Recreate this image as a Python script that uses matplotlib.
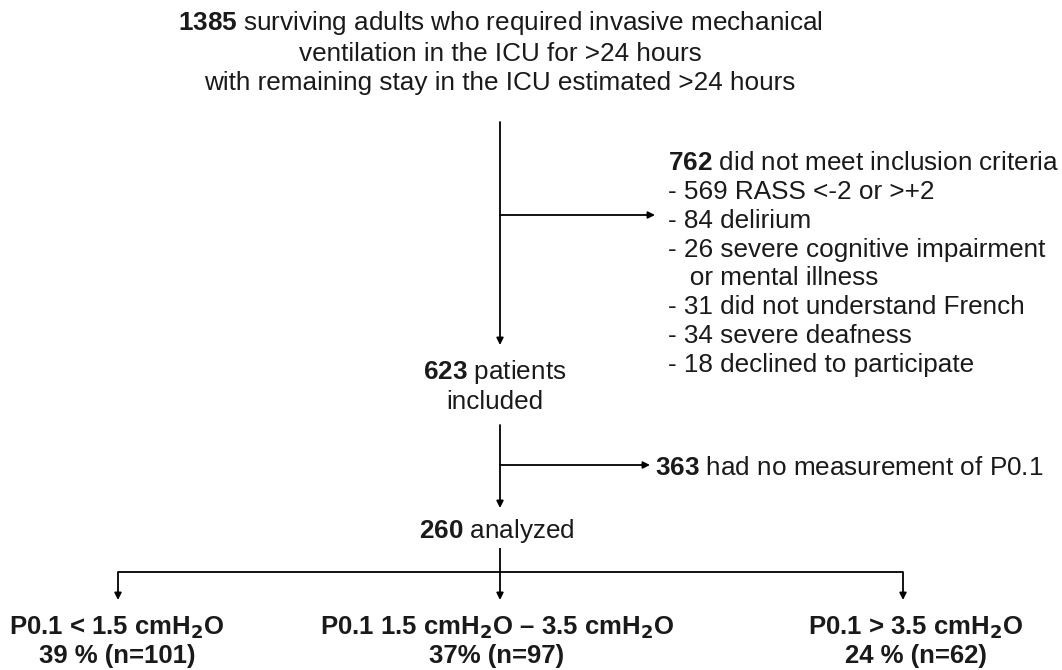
import matplotlib
matplotlib.use('Agg')
import matplotlib.pyplot as plt

# flow counts
n_screened = 1385
n_excluded = 762
excl_counts = [569, 84, 26, 31, 34, 18]
excl_reasons = ['RASS <-2 or >+2', 'delirium', 'severe cognitive impairment\nor mental illness',
                'did not understand French', 'severe deafness', 'declined to participate']
n_included = 623
n_no_p01 = 363
n_analyzed = 260
group_labels = ['P0.1 < 1.5 cmH$_2$O', 'P0.1 1.5 cmH$_2$O \u2013 3.5 cmH$_2$O', 'P0.1 > 3.5 cmH$_2$O']
group_pct = ['39 %', '37%', '24 %']
group_n = [101, 97, 62]

plt.rcParams['font.family'] = ['Liberation Sans', 'DejaVu Sans']
plt.rcParams['mathtext.fontset'] = 'custom'
plt.rcParams['mathtext.bf'] = 'Liberation Sans:bold'
plt.rcParams['mathtext.rm'] = 'Liberation Sans Narrow:bold'

fig = plt.figure(figsize=(10.62, 6.70), dpi=100)
ax = fig.add_axes([0, 0, 1, 1])
ax.set_xlim(0, 1062)
ax.set_ylim(670, 0)
ax.axis('off')

TXT = '#1a1a1a'
FS = 18.8
arrow = dict(arrowstyle='-|>', mutation_scale=10, lw=1.3, color='black', shrinkA=0, shrinkB=0)


def arr(x0, y0, x1, y1):
    ax.annotate('', xy=(x1, y1), xytext=(x0, y0), arrowprops=arrow)


def line(xs, ys):
    ax.plot(xs, ys, color='black', lw=1.3, solid_capstyle='butt')


# top box
top = (r'$\bf{%d}$ surviving adults who required invasive mechanical' % n_screened
       + '\nventilation in the ICU for >24 hours\nwith remaining stay in the ICU estimated >24 hours')
ax.text(500, 52, top, ha='center', va='center', fontsize=FS, color=TXT, linespacing=1.24)

# main stem
arr(500, 122, 500, 345)
arr(500, 215, 655, 215)

excl = [r'$\bf{%d}$ did not meet inclusion criteria' % n_excluded]
for c, r in zip(excl_counts, excl_reasons):
    r = r.replace('\n', '\n   ')
    excl.append('- %d %s' % (c, r))
ax.text(668, 264, '\n'.join(excl), ha='left', va='center', fontsize=FS, color=TXT, linespacing=1.25)

ax.text(495, 386, r'$\bf{%d}$ patients' % n_included + '\nincluded', ha='center', va='center',
        fontsize=FS, color=TXT, linespacing=1.22)

arr(500, 425, 500, 508)
arr(500, 465, 650, 465)
ax.text(655, 468, r'$\bf{%d}$ had no measurement of P0.1' % n_no_p01, ha='left', va='center',
        fontsize=FS, color=TXT)

ax.text(497, 531, r'$\bf{%d}$ analyzed' % n_analyzed, ha='center', va='center', fontsize=FS, color=TXT)

# split into groups
line([500, 500], [548, 572])
line([118, 903], [572, 572])
xs = [118, 500, 903]
label_x = [117, 497, 916]
for x, lx, g, p, n in zip(xs, label_x, group_labels, group_pct, group_n):
    arr(x, 572, x, 600)
    ax.text(lx, 641, '%s\n%s (n=%d)' % (g, p, n), ha='center', va='center', fontsize=18.5,
            color=TXT, fontweight='bold', linespacing=1.17,
            family=['Liberation Sans Narrow', 'Liberation Sans', 'DejaVu Sans'])

fig.savefig('out.png', dpi=100, facecolor='white')
